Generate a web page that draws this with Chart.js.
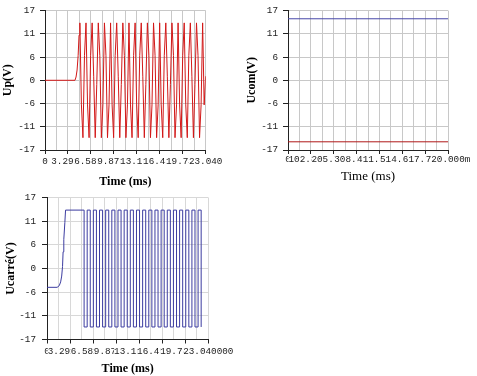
<!DOCTYPE html>
<html>
<head>
<meta charset="utf-8">
<script src="https://cdn.jsdelivr.net/npm/chart.js@4.4.0/dist/chart.umd.min.js"></script>
<style>
  body { margin: 0; background: #fff; }
  canvas { position: absolute; }
  #upChart { left: 0; top: 0; }
  #comChart { left: 240px; top: 0; }
  #carreChart { left: 0; top: 186px; }
</style>
</head>
<body>
<canvas id="upChart" width="240" height="190"></canvas>
<canvas id="comChart" width="237" height="190"></canvas>
<canvas id="carreChart" width="240" height="190"></canvas>
<script>
// Up(V) : sortie de l'oscillateur
const upTimes = [0, 4.30, 4.45, 4.60, 4.75, 4.88,
  5.00, 5.22, 5.44, 5.66, 5.88, 6.10, 6.32, 6.54, 6.76, 6.98,
  7.20, 7.42, 7.64, 7.86, 8.08, 8.30, 8.52, 8.74, 8.96, 9.18,
  9.40, 9.62, 9.84, 10.06, 10.28, 10.50, 10.72, 10.94, 11.16, 11.38,
  11.60, 11.82, 12.04, 12.26, 12.48, 12.70, 12.92, 13.14, 13.36, 13.58,
  13.80, 14.02, 14.24, 14.46, 14.68, 14.90, 15.12, 15.34, 15.56, 15.78,
  16.00, 16.22, 16.44, 16.66, 16.88, 17.10, 17.32, 17.54, 17.76, 17.98,
  18.20, 18.42, 18.64, 18.86, 19.08, 19.30, 19.52, 19.74, 19.96, 20.18,
  20.40, 20.62, 20.84, 21.06, 21.28, 21.50, 21.72, 21.94, 22.16, 22.38,
  22.60, 22.82, 23.04];
const upVolts = [0, 0, 0.8, 2.5, 6, 11,
  14, -6, -14, 6, 14, -6, -14, 6, 14, 1,
  -14, -1, 14, 6, -14, -6, 14, 6, -14, -6,
  14, -6, -14, 6, 14, 1, -14, -1, 14, 6,
  -14, -6, 14, -6, -14, 6, 14, -6, -14, 6,
  14, 1, -14, -1, 14, 6, -14, -6, 14, 6,
  -14, -6, 14, -6, -14, 6, 14, 1, -14, -1,
  14, 6, -14, -6, 14, -6, -14, 6, 14, -6,
  -14, 6, 14, 1, -14, -1, 14, 6, -14, -6,
  14, -6, 1];

// Ucom(V) : alimentations
const comTimes = [0, 720];
const comHigh = [15, 15];
const comLow = [-15, -15];

// Ucarré(V) : démarrage puis créneaux
const carreRiseTimes = [0, 1.45, 1.75, 1.95, 2.10, 2.22, 2.30, 2.40, 2.55, 2.65, 5.30];
const carreRiseVolts = [-4.5, -4.5, -4.1, -3.2, -1.8, 0.5, 4, 7, 11, 14, 14];
const carreEdgeTimes = [5.30, 5.30, 5.74, 6.18, 6.62, 7.06, 7.50, 7.94, 8.38, 8.82,
  9.26, 9.70, 10.14, 10.58, 11.02, 11.46, 11.90, 12.34, 12.78, 13.22,
  13.66, 14.10, 14.54, 14.98, 15.42, 15.86, 16.30, 16.74, 17.18, 17.62,
  18.06, 18.50, 18.94, 19.38, 19.82, 20.26, 20.70, 21.14, 21.58, 22.02];
const carreEdgeVolts = [14, -14, 14, -14, 14, -14, 14, -14, 14, -14,
  14, -14, 14, -14, 14, -14, 14, -14, 14, -14,
  14, -14, 14, -14, 14, -14, 14, -14, 14, -14,
  14, -14, 14, -14, 14, -14, 14, -14, 14, -14];

// graduations
const voltLabels = ['-17', '-11', '-6', '0', '6', '11', '17'];
const upTimeLabels = ['0', '3.2914', '6.5829', '9.8743', '13.166', '16.457', '19.749', '23.040'];
const comTimeLabels = ['0', '102.857m', '205.714m', '308.571m', '411.429m', '514.286m', '617.143m', '720.000m'];
const carreTimeLabels = ['0', '3.291429', '6.582857', '9.874286', '13.165714', '16.457143', '19.748571', '23.040000'];

const pts = (xs, ys) => xs.map((x, i) => ({ x: x, y: ys[i] }));
const tickFont = { family: 'Liberation Mono', size: 9.3 };

function makeChart(id, datasets, o) {
  return new Chart(document.getElementById(id), {
    type: 'line',
    data: { datasets: datasets },
    options: {
      responsive: false,
      animation: false,
      devicePixelRatio: 1,
      layout: { padding: { top: o.top, right: o.right, left: 0, bottom: 0 } },
      plugins: { legend: { display: false }, tooltip: { enabled: false } },
      elements: { point: { radius: 0 }, line: { borderWidth: 1, tension: 0 } },
      scales: {
        x: {
          type: 'linear',
          min: 0,
          max: o.xMax,
          afterBuildTicks: s => { s.ticks = Array.from({ length: 15 }, (_, i) => ({ value: i * o.xMax / 14 })); },
          afterFit: s => { s.height = o.xH; },
          grid: {
            color: o.gridColor,
            tickLength: 4,
            tickColor: c => c.index % 2 ? 'rgba(0,0,0,0)' : '#222'
          },
          border: { color: '#222' },
          ticks: {
            autoSkip: false,
            maxRotation: 0,
            minRotation: 0,
            padding: o.xPad,
            font: tickFont,
            color: '#222',
            showLabelBackdrop: true,
            backdropColor: '#fff',
            backdropPadding: 0,
            callback: (v, i) => i % 2 ? '' : o.xLabels[i / 2]
          },
          title: { display: true, text: 'Time (ms)', color: '#000', font: o.xTitleFont, padding: { top: 0, bottom: o.xTitlePad } }
        },
        y: {
          min: -17,
          max: 17,
          afterBuildTicks: s => { s.ticks = voltLabels.map((_, i) => ({ value: -17 + i * 34 / 6 })); },
          afterFit: s => { s.width = o.yW; },
          grid: { color: o.gridColor, tickLength: 5, tickColor: '#222' },
          border: { color: '#222' },
          ticks: { autoSkip: false, padding: o.yPad, font: tickFont, color: '#222', callback: (v, i) => voltLabels[i] },
          title: { display: true, text: o.yTitle, color: '#000', font: { family: 'Liberation Serif', size: 12, weight: 'bold' }, padding: { top: o.yTitlePad, bottom: 0 } }
        }
      }
    }
  });
}

makeChart('upChart', [
  { data: pts(upTimes, upVolts), borderColor: '#d21818' }
], { top: 6, right: 34.3, xMax: 23.04, xH: 40, xPad: 2, xLabels: upTimeLabels,
     xTitleFont: { family: 'Liberation Serif', size: 12, weight: 'bold' }, xTitlePad: 1,
     yW: 45, yPad: 5, yTitle: 'Up(V)', yTitlePad: 1, gridColor: '#c8c8c8' });

makeChart('comChart', [
  { data: pts(comTimes, comHigh), borderColor: '#4848a8' },
  { data: pts(comTimes, comLow), borderColor: '#b01818' }
], { top: 6, right: 29, xMax: 720, xH: 40, xPad: 0, xLabels: comTimeLabels,
     xTitleFont: { family: 'Liberation Serif', size: 13 }, xTitlePad: 6,
     yW: 48, yPad: 5, yTitle: 'Ucom(V)', yTitlePad: 5, gridColor: '#c8c8c8' });

makeChart('carreChart', [
  { data: pts(carreRiseTimes, carreRiseVolts), borderColor: '#3c3ca0' },
  { data: pts(carreEdgeTimes, carreEdgeVolts), borderColor: '#3c3ca0', stepped: true }
], { top: 8, right: 31.7, xMax: 23.04, xH: 36.5, xPad: 2, xLabels: carreTimeLabels,
     xTitleFont: { family: 'Liberation Serif', size: 12, weight: 'bold' }, xTitlePad: 0,
     yW: 47, yPad: 6, yTitle: 'Ucarré(V)', yTitlePad: 4, gridColor: '#d8d8d8' });
</script>
</body>
</html>
